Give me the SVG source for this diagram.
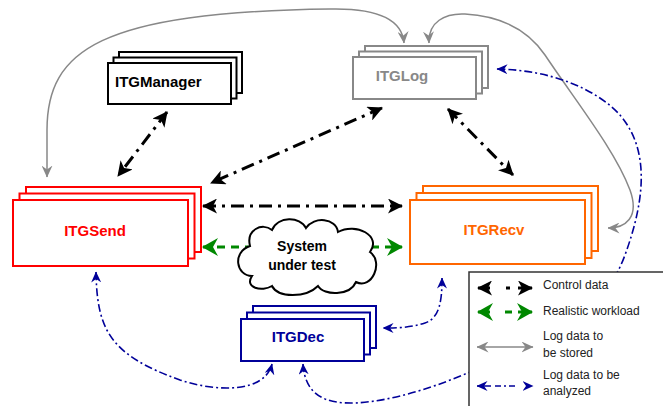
<svg xmlns="http://www.w3.org/2000/svg" width="663" height="406" viewBox="0 0 663 406">
<style>
.lbl{font-family:"Liberation Sans",Arial,sans-serif;font-weight:bold;font-size:15px}
.leg{font-family:"Liberation Sans",Arial,sans-serif;font-size:12px;fill:#222}
.box{fill:#fff;stroke-width:2}
.ctl{fill:none;stroke:#000;stroke-width:3;stroke-dasharray:13 6 3 6;marker-start:url(#mk);marker-end:url(#mk)}
.wl{fill:none;stroke:#008800;stroke-width:3;stroke-dasharray:8 6;marker-start:url(#mg);marker-end:url(#mg)}
.st{fill:none;stroke:#888;stroke-width:1.5;marker-start:url(#mgr);marker-end:url(#mgr)}
.an{fill:none;stroke:#000099;stroke-width:1.6;stroke-dasharray:8 3 2 3;marker-start:url(#mb);marker-end:url(#mb)}
</style>
<defs>
<marker id="mk" markerUnits="userSpaceOnUse" viewBox="0 0 15 15" markerWidth="15" markerHeight="15" refX="14" refY="7.5" orient="auto-start-reverse"><path d="M0,0 L15,7.5 L0,15 L4,7.5 Z" fill="#000"/></marker>
<marker id="mg" markerUnits="userSpaceOnUse" viewBox="0 0 16 18" markerWidth="16" markerHeight="18" refX="15" refY="9" orient="auto-start-reverse"><path d="M0,0 L16,9 L0,18 L5,9 Z" fill="#008800"/></marker>
<marker id="mgr" markerUnits="userSpaceOnUse" viewBox="0 0 12 11" markerWidth="12" markerHeight="11" refX="11.5" refY="5.5" orient="auto-start-reverse"><path d="M0,0 L12,5.5 L0,11 L4,5.5 Z" fill="#888"/></marker>
<marker id="mb" markerUnits="userSpaceOnUse" viewBox="0 0 11 10" markerWidth="11" markerHeight="10" refX="10.5" refY="5" orient="auto-start-reverse"><path d="M0,0 L11,5 L0,10 L3.5,5 Z" fill="#000099"/></marker>
</defs>

<g id="connectors">
<path class="st" d="M47,177 L47,130 C47,50 100,12 330,9 C375,8 402,18 404,43"/>
<path class="st" d="M429,43 C428,22 445,13 465,14 C500,16 528,30 545,55 C575,100 615,150 630,190 C640,218 625,228 608,228"/>
<path class="ctl" d="M167,112 L118,176"/>
<path class="ctl" d="M382,108 L211,183"/>
<path class="ctl" d="M448,109 L513,175"/>
<path class="ctl" d="M203,206 L402,206"/>
<path class="wl" d="M203,247 L402,247"/>
<path class="an" d="M442,278 C442,300 440,318 425,323 C410,328 395,328 383,328"/>
<path class="an" d="M96,272 C97,330 110,355 180,380 C220,393 265,392 272,364"/>
<path class="an" d="M303,364 C305,395 325,404 355,403 C395,401 440,385 470,372 C560,330 605,310 625,255 C645,200 650,150 620,115 C595,88 550,70 497,69"/>
</g>

<g id="ITGManager">
<rect class="box" x="119" y="52" width="123" height="41" stroke="#000"/>
<rect class="box" x="113.5" y="57.5" width="123" height="41" stroke="#000"/>
<rect class="box" x="108" y="63" width="123" height="41" stroke="#000"/>
<text class="lbl" x="115" y="87" fill="#000">ITGManager</text>
</g>

<g id="ITGLog">
<rect class="box" x="365" y="46" width="123" height="42" stroke="#888"/>
<rect class="box" x="359" y="51.5" width="123" height="42" stroke="#888"/>
<rect class="box" x="353" y="57" width="123" height="42" stroke="#888"/>
<text class="lbl" x="402" y="81" text-anchor="middle" fill="#888">ITGLog</text>
</g>

<g id="ITGSend">
<rect class="box" x="26" y="187" width="175" height="65" stroke="#ff0000"/>
<rect class="box" x="19.5" y="193.5" width="175" height="65" stroke="#ff0000"/>
<rect class="box" x="13" y="200" width="175" height="66" stroke="#ff0000"/>
<text class="lbl" x="95" y="236" text-anchor="middle" fill="#ff0000">ITGSend</text>
</g>

<g id="ITGRecv">
<rect class="box" x="423" y="186" width="175" height="65" stroke="#ff6600"/>
<rect class="box" x="416.5" y="193" width="175" height="65" stroke="#ff6600"/>
<rect class="box" x="410" y="200" width="175" height="64" stroke="#ff6600"/>
<text class="lbl" x="494" y="235" text-anchor="middle" fill="#ff6600">ITGRecv</text>
</g>

<g id="ITGDec">
<rect class="box" x="253" y="306" width="123" height="42" stroke="#000099"/>
<rect class="box" x="247" y="312.5" width="123" height="42" stroke="#000099"/>
<rect class="box" x="241" y="319" width="123" height="42" stroke="#000099"/>
<text class="lbl" x="298" y="342" text-anchor="middle" fill="#000099">ITGDec</text>
</g>

<g id="SUT">
<path d="M252,276 C236,276 232,252 250,246 C246,230 262,222 272,230 C278,216 300,216 306,228 C314,216 336,218 338,232 C356,222 382,236 370,252 C384,262 372,290 356,282 C350,296 324,296 318,286 C306,298 278,298 272,286 C262,292 244,288 252,276 Z" fill="#fff" stroke="#000" stroke-width="2"/>
<text class="lbl" x="302" y="251" text-anchor="middle" fill="#000" style="font-size:14px">System</text>
<text class="lbl" x="302" y="270" text-anchor="middle" fill="#000" style="font-size:14px">under test</text>
</g>

<g id="legend">
<rect x="469" y="272" width="200" height="150" fill="#fff" stroke="#333" stroke-width="1.5"/>
<path d="M478,288 L532,288" fill="none" stroke="#000" stroke-width="3" stroke-dasharray="12 16 4 8 20" marker-start="url(#mk)" marker-end="url(#mk)"/>
<path d="M478,312 L532,312" fill="none" stroke="#008800" stroke-width="3" stroke-dasharray="12 15 7 6 20" marker-start="url(#mg)" marker-end="url(#mg)"/>
<path d="M477,347 L533,347" fill="none" stroke="#888" stroke-width="1.5" marker-start="url(#mgr)" marker-end="url(#mgr)"/>
<path d="M477,386 L533,386" fill="none" stroke="#000099" stroke-width="1.6" stroke-dasharray="14 4 6 3 2 3 6 40" marker-start="url(#mb)" marker-end="url(#mb)"/>
<text class="leg" x="543" y="289">Control data</text>
<text class="leg" x="543" y="315">Realistic workload</text>
<text class="leg" x="543" y="340">Log data to</text>
<text class="leg" x="543" y="357">be stored</text>
<text class="leg" x="543" y="379">Log data to be</text>
<text class="leg" x="543" y="395">analyzed</text>
</g>
</svg>
